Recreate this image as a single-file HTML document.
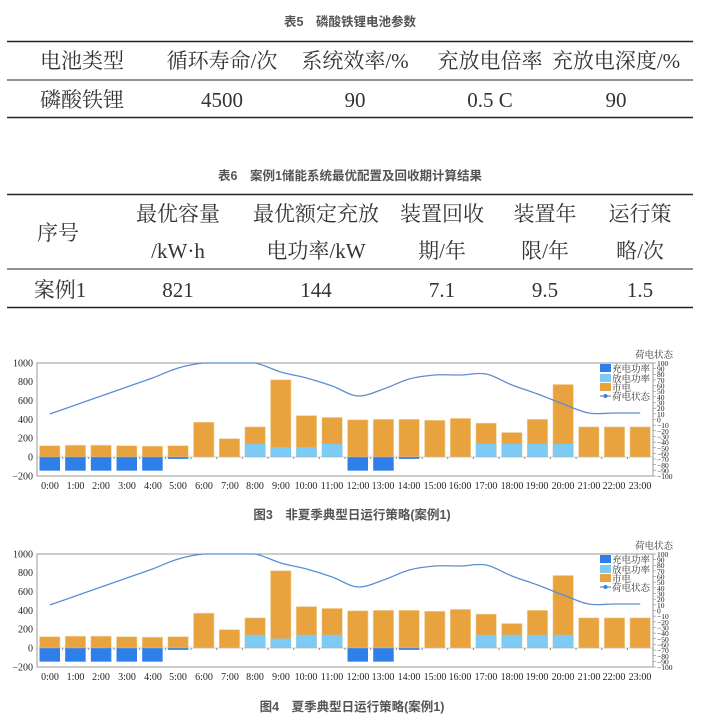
<!DOCTYPE html>
<html><head><meta charset="utf-8"><style>
html,body{margin:0;padding:0;background:#fff;}
body{width:701px;height:728px;overflow:hidden;position:relative;}
svg{position:absolute;left:0;top:0;}
.cap{font-family:"Liberation Sans","Noto Sans CJK SC",sans-serif;font-weight:bold;fill:#555;font-size:12.5px;}
.t{font-family:"Liberation Serif","Noto Serif CJK SC",serif;font-size:21px;fill:#333;}
.tk{font-family:"Liberation Serif","Noto Serif CJK SC",serif;font-size:10px;fill:#222;}
.rt{font-family:"Liberation Serif",serif;font-size:7.5px;fill:#222;}
.lg{font-family:"Liberation Serif","Noto Serif CJK SC",serif;font-size:9.5px;fill:#333;}
</style></head><body>
<svg width="701" height="728" viewBox="0 0 701 728" xmlns="http://www.w3.org/2000/svg">
<text class="cap" x="350" y="26" text-anchor="middle">表5　磷酸铁锂电池参数</text>
<line x1="7" y1="41.5" x2="693" y2="41.5" stroke="#222" stroke-width="1.5"/>
<line x1="7" y1="80" x2="693" y2="80" stroke="#222" stroke-width="1"/>
<line x1="7" y1="117.5" x2="693" y2="117.5" stroke="#222" stroke-width="1.5"/>
<g class="t" text-anchor="middle">
<text x="82" y="68">电池类型</text><text x="222" y="68">循环寿命/次</text><text x="355" y="68">系统效率/%</text><text x="490" y="68">充放电倍率</text><text x="616" y="68">充放电深度/%</text>
<text x="82" y="107">磷酸铁锂</text><text x="222" y="107">4500</text><text x="355" y="107">90</text><text x="490" y="107">0.5 C</text><text x="616" y="107">90</text>
</g>
<text class="cap" x="350" y="180" text-anchor="middle">表6　案例1储能系统最优配置及回收期计算结果</text>
<line x1="7" y1="194.5" x2="693" y2="194.5" stroke="#222" stroke-width="1.5"/>
<line x1="7" y1="269" x2="693" y2="269" stroke="#222" stroke-width="1"/>
<line x1="7" y1="307.5" x2="693" y2="307.5" stroke="#222" stroke-width="1.5"/>
<g class="t" text-anchor="middle">
<text x="58" y="240">序号</text>
<text x="178" y="221">最优容量</text><text x="178" y="258">/kW·h</text>
<text x="316" y="221">最优额定充放</text><text x="316" y="258">电功率/kW</text>
<text x="442" y="221">装置回收</text><text x="442" y="258">期/年</text>
<text x="545" y="221">装置年</text><text x="545" y="258">限/年</text>
<text x="640" y="221">运行策</text><text x="640" y="258">略/次</text>
<text x="60" y="297">案例1</text><text x="178" y="297">821</text><text x="316" y="297">144</text><text x="442" y="297">7.1</text><text x="545" y="297">9.5</text><text x="640" y="297">1.5</text>
</g>

<g id="c1"></g>
<g id="c2" transform="translate(0,191)"></g>

<g class="tk" text-anchor="end">
<text x="33" y="366.5">1000</text><text x="33" y="385">800</text><text x="33" y="404">600</text><text x="33" y="423">400</text><text x="33" y="441.5">200</text><text x="33" y="460.5">0</text><text x="33" y="479.5">−200</text>
</g>
<g class="tk" text-anchor="middle">
<text x="50" y="489">0:00</text><text x="75.5" y="489">1:00</text><text x="101" y="489">2:00</text><text x="127" y="489">3:00</text><text x="153" y="489">4:00</text><text x="178" y="489">5:00</text><text x="204" y="489">6:00</text><text x="230" y="489">7:00</text><text x="255" y="489">8:00</text><text x="281" y="489">9:00</text><text x="306" y="489">10:00</text><text x="332" y="489">11:00</text><text x="358" y="489">12:00</text><text x="383" y="489">13:00</text><text x="409" y="489">14:00</text><text x="435" y="489">15:00</text><text x="460" y="489">16:00</text><text x="486" y="489">17:00</text><text x="512" y="489">18:00</text><text x="537" y="489">19:00</text><text x="563" y="489">20:00</text><text x="589" y="489">21:00</text><text x="614" y="489">22:00</text><text x="640" y="489">23:00</text>
</g>
<g class="rt">
<text x="657" y="366">100</text><text x="657" y="371.5">90</text><text x="657" y="377">80</text><text x="657" y="383">70</text><text x="657" y="388.5">60</text><text x="657" y="394">50</text><text x="657" y="400">40</text><text x="657" y="405.5">30</text><text x="657" y="411">20</text><text x="657" y="417">10</text><text x="657" y="422.5">0</text><text x="657" y="428">−10</text><text x="657" y="434">−20</text><text x="657" y="439.5">−30</text><text x="657" y="445">−40</text><text x="657" y="451">−50</text><text x="657" y="456.5">−60</text><text x="657" y="462">−70</text><text x="657" y="468">−80</text><text x="657" y="473.5">−90</text><text x="657" y="479">−100</text>
</g>
<text class="lg" x="635" y="358">荷电状态</text>
<g class="lg"><text x="612" y="372">充电功率</text><text x="612" y="382">放电功率</text><text x="612" y="391">市电</text><text x="612" y="400">荷电状态</text></g>
<text class="cap" x="352" y="519" text-anchor="middle" font-size="13">图3　非夏季典型日运行策略(案例1)</text>

<g transform="translate(0,191)">
<g class="tk" text-anchor="end">
<text x="33" y="366.5">1000</text><text x="33" y="385">800</text><text x="33" y="404">600</text><text x="33" y="423">400</text><text x="33" y="441.5">200</text><text x="33" y="460.5">0</text><text x="33" y="479.5">−200</text>
</g>
<g class="tk" text-anchor="middle">
<text x="50" y="489">0:00</text><text x="75.5" y="489">1:00</text><text x="101" y="489">2:00</text><text x="127" y="489">3:00</text><text x="153" y="489">4:00</text><text x="178" y="489">5:00</text><text x="204" y="489">6:00</text><text x="230" y="489">7:00</text><text x="255" y="489">8:00</text><text x="281" y="489">9:00</text><text x="306" y="489">10:00</text><text x="332" y="489">11:00</text><text x="358" y="489">12:00</text><text x="383" y="489">13:00</text><text x="409" y="489">14:00</text><text x="435" y="489">15:00</text><text x="460" y="489">16:00</text><text x="486" y="489">17:00</text><text x="512" y="489">18:00</text><text x="537" y="489">19:00</text><text x="563" y="489">20:00</text><text x="589" y="489">21:00</text><text x="614" y="489">22:00</text><text x="640" y="489">23:00</text>
</g>
<g class="rt">
<text x="657" y="366">100</text><text x="657" y="371.5">90</text><text x="657" y="377">80</text><text x="657" y="383">70</text><text x="657" y="388.5">60</text><text x="657" y="394">50</text><text x="657" y="400">40</text><text x="657" y="405.5">30</text><text x="657" y="411">20</text><text x="657" y="417">10</text><text x="657" y="422.5">0</text><text x="657" y="428">−10</text><text x="657" y="434">−20</text><text x="657" y="439.5">−30</text><text x="657" y="445">−40</text><text x="657" y="451">−50</text><text x="657" y="456.5">−60</text><text x="657" y="462">−70</text><text x="657" y="468">−80</text><text x="657" y="473.5">−90</text><text x="657" y="479">−100</text>
</g>
<text class="lg" x="635" y="358">荷电状态</text>
<g class="lg"><text x="612" y="372">充电功率</text><text x="612" y="382">放电功率</text><text x="612" y="391">市电</text><text x="612" y="400">荷电状态</text></g>
</g>
<text class="cap" x="352" y="711" text-anchor="middle" font-size="13">图4　夏季典型日运行策略(案例1)</text>
</svg>
<script>
var NS="http://www.w3.org/2000/svg";
function el(p,n,a){var e=document.createElementNS(NS,n);for(var k in a)e.setAttribute(k,a[k]);p.appendChild(e);return e;}
var orange=[120,125,125,120,115,120,370,195,320,820,440,420,395,400,400,390,410,360,260,400,770,320,320,320];
var light1=[0,0,0,0,0,0,0,0,140,105,105,140,0,0,0,0,0,140,140,140,140,0,0,0];
var light2=[0,0,0,0,0,0,0,0,140,100,140,140,0,0,0,0,0,140,140,140,140,0,0,0];
var dark=[-145,-145,-145,-145,-145,-20,0,0,0,0,0,0,-145,-145,-20,0,0,0,0,0,0,0,0,0];
var soc=[414,405,396,387,378,368,363,363,363,372,378,386,396,389,379,375,375,374,385,394,404,413,413,413];
function draw(g,light){
  var z=457,s=0.0942,w=25.67;
  el(g,"rect",{x:37,y:363,width:616,height:113,fill:"#fff",stroke:"#999","stroke-width":1});
  for(var i=0;i<24;i++){
    var x=37+i*w+2.5;
    el(g,"rect",{x:x,y:z-orange[i]*s,width:20.5,height:orange[i]*s,fill:"#E8A23E",stroke:"#f4d9a8","stroke-width":0.6});
    if(light[i])el(g,"rect",{x:x,y:z-light[i]*s,width:20.5,height:light[i]*s,fill:"#7DCBF5"});
    if(dark[i])el(g,"rect",{x:x,y:z,width:20.5,height:-dark[i]*s,fill:"#2F7FE8"});
    el(g,"line",{x1:37+i*w,y1:z,x2:37+i*w,y2:z+2,stroke:"#888"});
  }
  el(g,"line",{x1:37,y1:z,x2:653,y2:z,stroke:"#aaa","stroke-width":0.6});
  for(var k=0;k<=20;k++)el(g,"line",{x1:653,y1:363+k*5.65,x2:656,y2:363+k*5.65,stroke:"#888","stroke-width":0.6});
  var P=soc.map(function(v,i){return [49.8+i*w,v];});
  var d="M"+P[0][0]+","+P[0][1];
  for(var i=0;i<P.length-1;i++){
    var p0=P[Math.max(0,i-1)],p1=P[i],p2=P[i+1],p3=P[Math.min(P.length-1,i+2)];
    var c1x=p1[0]+(p2[0]-p0[0])/6,c1y=Math.max(363,p1[1]+(p2[1]-p0[1])/6);
    var c2x=p2[0]-(p3[0]-p1[0])/6,c2y=Math.max(363,p2[1]-(p3[1]-p1[1])/6);
    d+=" C"+c1x+","+c1y+" "+c2x+","+c2y+" "+p2[0]+","+p2[1];
  }
  el(g,"path",{d:d,fill:"none",stroke:"#5B8FD0","stroke-width":1.3});
  el(g,"rect",{x:600,y:364,width:11,height:8,fill:"#2F7FE8"});
  el(g,"rect",{x:600,y:374,width:11,height:8,fill:"#7DCBF5"});
  el(g,"rect",{x:600,y:383,width:11,height:8,fill:"#E8A23E"});
  el(g,"line",{x1:600,y1:396,x2:611,y2:396,stroke:"#5B8FD0","stroke-width":1.2});
  el(g,"circle",{cx:605.5,cy:396,r:2,fill:"#3F7FD8"});
}
draw(document.getElementById("c1"),light1);
draw(document.getElementById("c2"),light2);
</script>
</body></html>
